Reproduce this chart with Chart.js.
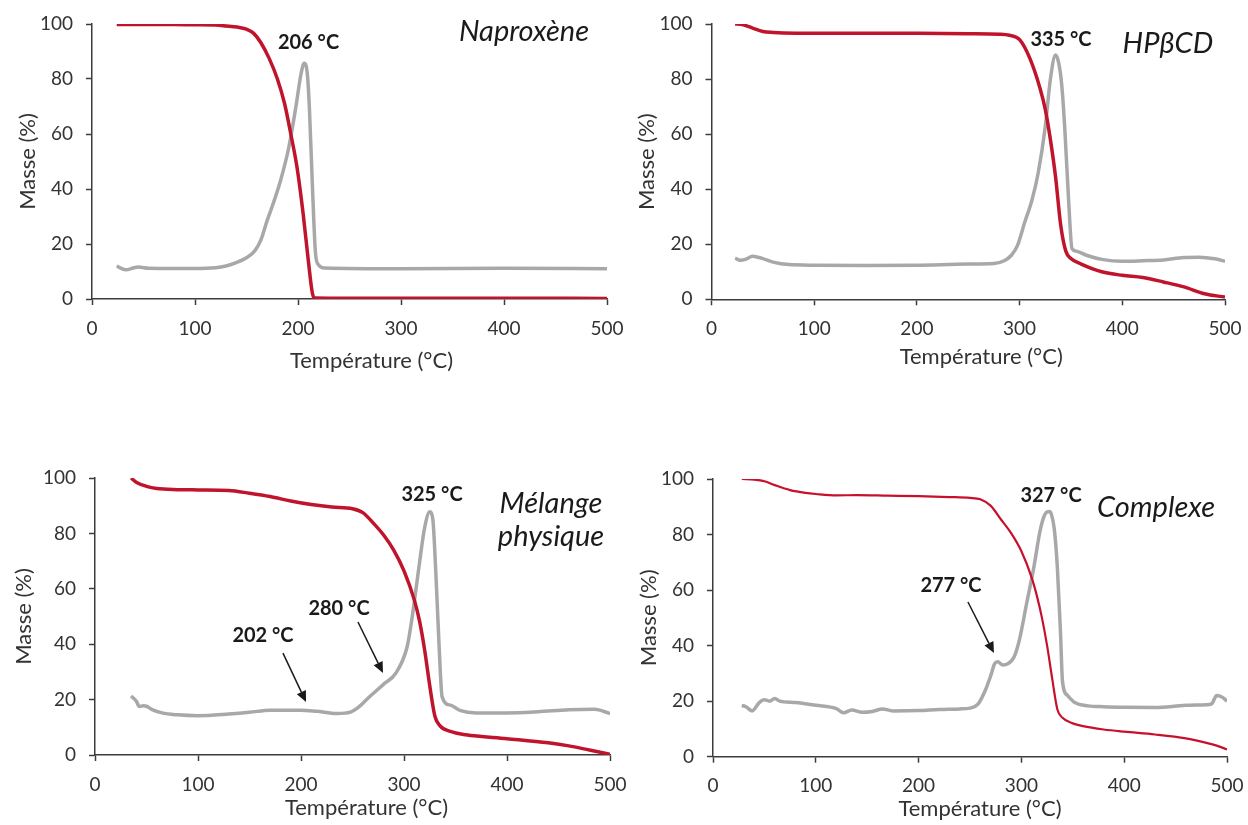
<!DOCTYPE html>
<html><head><meta charset="utf-8">
<script src="https://cdn.jsdelivr.net/npm/chart.js@4.4.1/dist/chart.umd.min.js"></script>
<style>
html,body{margin:0;padding:0;background:#fff;overflow:hidden;width:1248px;height:825px;}
.box{position:absolute;}
canvas{display:block;}
</style></head><body>
<div class="box" style="left:0px;top:0px"><canvas id="c1" width="630" height="380"></canvas></div>
<div class="box" style="left:624px;top:0px"><canvas id="c2" width="624" height="380"></canvas></div>
<div class="box" style="left:0px;top:440px"><canvas id="c3" width="630" height="385"></canvas></div>
<div class="box" style="left:624px;top:440px"><canvas id="c4" width="624" height="385"></canvas></div>
<script>
// ---------- Axis ticks ----------
const xTicks = [0, 100, 200, 300, 400, 500];
const yTicks = [0, 20, 40, 60, 80, 100];
const xAxisTitle = 'Température (°C)';
const yAxisTitle = 'Masse (%)';

// ---------- Naproxène ----------
const napTempTGA = [24, 40, 60, 80, 100, 120, 130, 141, 150, 157, 164, 172, 180, 187, 193, 199, 205, 210, 214, 216, 250, 300, 400, 500];
const napMassTGA = [99.8, 99.8, 99.8, 99.8, 99.7, 99.6, 99.3, 98.9, 98.1, 96.6, 93.2, 87.5, 80, 71, 60, 48, 31, 14, 2, 0.4, 0.3, 0.3, 0.3, 0.2];
const napTempDTG = [24, 28, 33, 40, 45, 55, 80, 100, 120, 130, 140, 150, 158, 164, 170, 176, 183, 191, 198, 203, 206, 209, 211, 214, 217, 220, 226, 300, 400, 500];
const napValDTG  = [12, 11.2, 10.6, 11.3, 11.6, 11.2, 11.1, 11.1, 11.4, 12, 13.2, 15, 17.5, 21.5, 28.5, 34.8, 43, 55, 70, 82, 85.7, 82, 70, 41, 16.6, 12.4, 11.3, 11, 11.2, 11];

// ---------- HPβCD ----------
const cdTempTGA = [23, 30, 40, 50, 60, 70, 100, 150, 200, 250, 280, 290, 300, 310, 320, 325, 330, 335, 340, 345, 350, 360, 380, 400, 420, 440, 460, 480, 500];
const cdMassTGA = [100, 99.8, 98.5, 97.3, 96.9, 96.7, 96.6, 96.6, 96.6, 96.5, 96.3, 95.9, 94.3, 87.5, 76.5, 69, 58, 44.5, 27, 17.5, 14.8, 12.8, 10, 8.7, 7.9, 6.3, 4.5, 2, 0.8];
const cdTempDTG = [23, 28, 33, 40, 45, 50, 60, 75, 100, 150, 200, 250, 275, 285, 292, 298, 305, 312, 318, 325, 330, 335, 338, 341, 344, 348, 351, 355, 365, 380, 400, 420, 440, 460, 475, 490, 500];
const cdValDTG  = [15, 14.2, 14.5, 15.6, 15.3, 14.8, 13.5, 12.6, 12.4, 12.3, 12.4, 12.8, 13, 14, 16, 19.6, 28, 36, 45.7, 62.7, 80, 88.7, 86, 78, 62, 34, 18.4, 17.5, 16, 14.5, 13.8, 14, 14.3, 15.2, 15.3, 14.7, 13.8];

// ---------- Mélange physique ----------
const mixTempTGA = [35, 40, 50, 60, 80, 100, 130, 150, 170, 190, 210, 230, 250, 260, 270, 280, 290, 300, 310, 315, 320, 325, 330, 335, 345, 360, 400, 440, 460, 480, 500];
const mixMassTGA = [100, 98.5, 97, 96.2, 95.8, 95.7, 95.5, 94.5, 93.3, 91.7, 90.4, 89.5, 88.9, 87.5, 83.8, 79.5, 74, 66.5, 56, 48.5, 38, 25, 14, 10.5, 8.5, 7.3, 5.9, 4.4, 3.3, 1.8, 0.3];
const mixTempDTG = [35, 40, 43, 47, 50, 55, 65, 80, 100, 130, 150, 170, 200, 215, 235, 248, 255, 265, 280, 292, 303, 307, 311, 316, 320, 325, 328, 331, 334, 337, 345, 355, 370, 400, 430, 460, 485, 500];
const mixValDTG  = [21.3, 19.5, 17.5, 17.8, 17.6, 16.5, 15.2, 14.5, 14.2, 14.8, 15.4, 16.2, 16.2, 15.8, 15, 15.5, 17, 20.5, 25.5, 29.5, 39, 47.5, 58, 72, 82, 87.8, 85, 65, 40, 21, 18, 16, 15.2, 15.2, 15.6, 16.3, 16.5, 15];

// ---------- Complexe ----------
const cpxTempTGA = [28, 40, 50, 60, 75, 90, 100, 120, 140, 170, 200, 230, 250, 260, 270, 280, 290, 300, 310, 315, 320, 325, 330, 335, 340, 350, 360, 380, 400, 430, 460, 480, 490, 500];
const cpxMassTGA = [100, 99.8, 99.2, 97.8, 96, 95, 94.6, 94.1, 94.2, 94, 93.8, 93.5, 93.2, 92.7, 90.4, 85.5, 80.5, 74, 64.5, 58, 50, 40, 28, 17, 14, 12, 11, 9.8, 9, 8, 6.6, 5, 4, 2.6];
const cpxTempDTG = [28, 32, 38, 45, 50, 55, 60, 65, 80, 100, 120, 127, 135, 145, 155, 165, 175, 200, 220, 240, 250, 258, 265, 270, 274, 277, 282, 287, 293, 298, 305, 312, 318, 322, 325, 327, 329, 332, 335, 338, 340, 345, 352, 365, 380, 400, 430, 460, 480, 485, 490, 495, 500];
const cpxValDTG  = [18.5, 18, 16.5, 19.5, 20.5, 20, 21, 20, 19.5, 18.5, 17.3, 15.8, 16.8, 16, 16.3, 17.2, 16.5, 16.6, 17, 17.2, 17.5, 19, 24, 29, 33.5, 34.2, 33, 33.5, 36, 42, 55, 68, 81, 86.5, 88.2, 88.3, 87.5, 82, 68, 45, 27, 22, 19.5, 18.3, 18, 17.8, 17.7, 18.5, 18.7, 19, 22, 21.5, 20];

// ---------- Labels ----------
const napLabels = [['206 °C', 210.2, 93.1, 'b'], ['Naproxène', 419.4, 97.3, 'i']];
const cdLabels  = [['335 °C', 340.3, 94.3, 'b'], ['HPβCD', 444.4, 92.7, 'i']];
const mixLabels = [['325 °C', 327.2, 94.2, 'b'], ['Mélange', 442.7, 90.6, 'i'], ['physique', 442.7, 78.8, 'i'], ['202 °C', 163.1, 43, 'b'], ['280 °C', 236.9, 52.7, 'b']];
const cpxLabels = [['327 °C', 328.8, 94.2, 'b'], ['Complexe', 431, 89.8, 'i'], ['277 °C', 231.5, 61.8, 'b']];
const mixArrows = [[182.5, 36.8, 204.9, 19.1], [255.3, 48, 279.6, 29.6]];
const cpxArrows = [[248, 55.7, 273.3, 37.3]];

const FONT = 'Lato, "Open Sans", sans-serif';
const zip = (xs, ys) => xs.map((v, i) => ({x: v, y: ys[i]}));

const annoPlugin = {
  id: 'anno',
  afterDatasetsDraw(chart, args, opts) {
    const {ctx} = chart; const sx = chart.scales.x, sy = chart.scales.y;
    ctx.save();
    ctx.fillStyle = '#1a1a1a'; ctx.strokeStyle = '#1a1a1a';
    ctx.textAlign = 'center'; ctx.textBaseline = 'middle';
    (opts.labels || []).forEach(([t, x, y, k]) => {
      ctx.font = k === 'b' ? ('bold 20px ' + FONT) : ('italic 29px ' + FONT);
      ctx.fillText(t, sx.getPixelForValue(x), sy.getPixelForValue(y));
    });
    (opts.arrows || []).forEach(([x1, y1, x2, y2]) => {
      const p1 = [sx.getPixelForValue(x1), sy.getPixelForValue(y1)];
      const p2 = [sx.getPixelForValue(x2), sy.getPixelForValue(y2)];
      const ang = Math.atan2(p2[1] - p1[1], p2[0] - p1[0]);
      const hl = 11, hw = 5;
      const bx = p2[0] - hl * Math.cos(ang), by = p2[1] - hl * Math.sin(ang);
      ctx.lineWidth = 1.5;
      ctx.beginPath(); ctx.moveTo(p1[0], p1[1]); ctx.lineTo(bx, by); ctx.stroke();
      ctx.beginPath();
      ctx.moveTo(p2[0], p2[1]);
      ctx.lineTo(bx + hw * Math.sin(ang), by - hw * Math.cos(ang));
      ctx.lineTo(bx - hw * Math.sin(ang), by + hw * Math.cos(ang));
      ctx.closePath(); ctx.fill();
    });
    // x-axis title (slightly right of centre, as in the original)
    ctx.fillStyle = '#333';
    ctx.font = '22px ' + FONT;
    const a = chart.chartArea;
    ctx.fillText(xAxisTitle, (a.left + a.right) / 2 + opts.xdx, chart.height - opts.xtp - 11.4);
    ctx.restore();
  }
};

function makeChart(id, tT, tM, dT, dV, L, labels, arrows) {
  new Chart(document.getElementById(id), {
    type: 'line',
    data: {
      datasets: [
        {data: zip(tT, tM), borderColor: L.red || '#C0142C', borderWidth: L.redW || 3.5, pointRadius: 0, cubicInterpolationMode: 'monotone', fill: false},
        {data: zip(dT, dV), borderColor: '#A8A8A8', borderWidth: 3.5, pointRadius: 0, cubicInterpolationMode: 'monotone', fill: false}
      ]
    },
    options: {
      responsive: false, animation: false, devicePixelRatio: 1,
      layout: {padding: {left: 0, top: L.top, right: L.right, bottom: 0}},
      plugins: {legend: {display: false}, tooltip: {enabled: false}, anno: {labels, arrows, xdx: L.xdx, xtp: L.xtp}},
      scales: {
        x: {
          type: 'linear', min: 0, max: 500,
          afterBuildTicks: s => { s.ticks = xTicks.map(v => ({value: v})); },
          afterFit: s => { s.height = L.xh; s.paddingLeft = 0; s.paddingRight = 0; },
          ticks: {color: '#333', font: {family: FONT, size: 19}, padding: 12, maxRotation: 0, autoSkip: false},
          grid: {drawOnChartArea: false, drawTicks: true, tickLength: 6, tickWidth: 1.5, color: '#3c3c3c'},
          border: {display: true, color: '#3c3c3c', width: 1.5},
          title: {display: false}
        },
        y: {
          type: 'linear', min: 0, max: 100,
          afterBuildTicks: s => { s.ticks = yTicks.map(v => ({value: v})); },
          afterFit: s => { s.width = L.yw; s.paddingTop = 0; s.paddingBottom = 0; },
          ticks: {color: '#333', font: {family: FONT, size: 19}, padding: 13},
          grid: {drawOnChartArea: false, drawTicks: true, tickLength: 6, tickWidth: 1.5, color: '#3c3c3c'},
          border: {display: true, color: '#3c3c3c', width: 1.5},
          title: {display: true, text: yAxisTitle, color: '#333', font: {family: FONT, size: 22}, padding: {top: L.ytp - 1.8, bottom: 0}}
        }
      }
    },
    plugins: [annoPlugin]
  });
}

makeChart('c1', napTempTGA, napMassTGA, napTempDTG, napValDTG, {top: 24, right: 23, yw: 92, xh: 81, xtp: 7.6, ytp: 16.6, xdx: 22}, napLabels, []);
makeChart('c2', cdTempTGA, cdMassTGA, cdTempDTG, cdValDTG, {top: 24, right: 23, yw: 87.5, xh: 80.7, xtp: 11.6, ytp: 11.6, xdx: 13}, cdLabels, []);
makeChart('c3', mixTempTGA, mixMassTGA, mixTempDTG, mixValDTG, {top: 38, right: 20, yw: 95, xh: 70, xtp: 5.6, ytp: 12.3, xdx: 14}, mixLabels, mixArrows);
makeChart('c4', cpxTempTGA, cpxMassTGA, cpxTempDTG, cpxValDTG, {top: 39, right: 21, yw: 89, xh: 68.3, xtp: 4.6, ytp: 13.6, xdx: 10, redW: 2.2, red: '#C8102E'}, cpxLabels, cpxArrows);
</script>
</body></html>
